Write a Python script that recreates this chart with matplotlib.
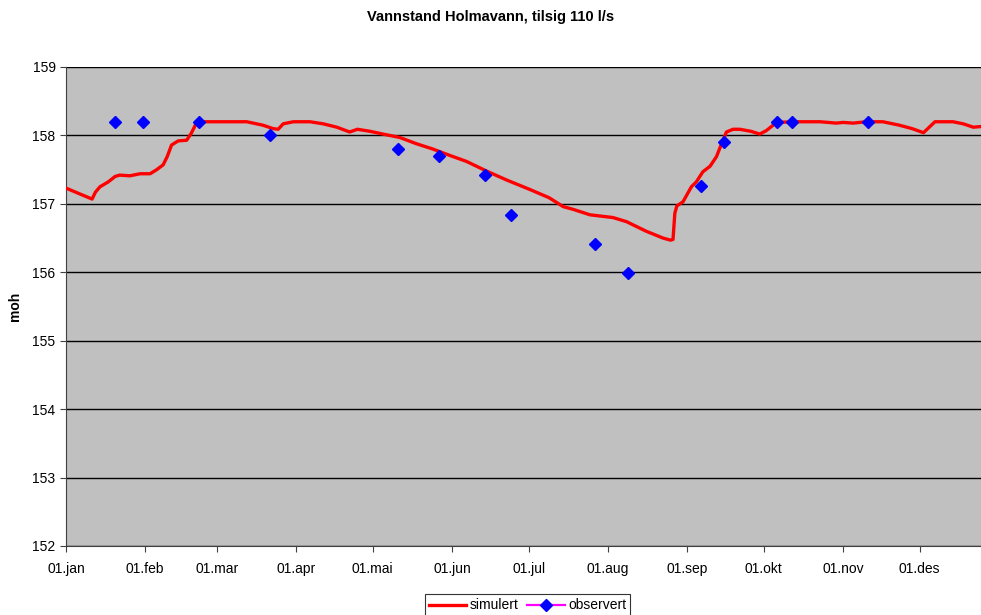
import matplotlib
matplotlib.use("Agg")
import matplotlib.pyplot as plt
from matplotlib.lines import Line2D

plt.rcParams['font.family'] = ['Liberation Sans', 'DejaVu Sans']

title = "Vannstand Holmavann, tilsig 110 l/s"
ylabel = "moh"
month_days = [0, 31, 59, 90, 120, 151, 181, 212, 243, 273, 304, 334]
month_labels = ["01.jan", "01.feb", "01.mar", "01.apr", "01.mai", "01.jun",
                "01.jul", "01.aug", "01.sep", "01.okt", "01.nov", "01.des"]

sim_day = [0, 10.2, 11.5, 13.3, 16.5, 19.2, 21, 25, 29, 32.9, 35.5, 38, 39.6, 41.3, 43.9, 47.2,
           49, 51, 52.4, 60, 70.7, 77, 81, 83, 85, 89, 95.4, 100.6, 106, 111, 114, 119, 124,
           130.6, 137, 143.6, 150, 156.7, 164.5, 172.3, 181.5, 189, 194.5, 198.4, 205, 214,
           219.3, 227, 233.6, 236.5, 237.5, 238.2, 239, 241.4, 244.7, 246.6, 249.2, 252,
           254.5, 256.5, 258.4, 261, 263.6, 268, 271.4, 274, 278, 285, 295, 301.4, 304,
           308, 313, 319.6, 326, 331, 335.5, 340, 347, 351, 355, 358]
sim_val = [157.23, 157.07, 157.17, 157.25, 157.32, 157.40, 157.42, 157.41, 157.44, 157.44,
           157.50, 157.57, 157.69, 157.86, 157.92, 157.93, 158.03, 158.18, 158.20, 158.20,
           158.20, 158.15, 158.10, 158.09, 158.17, 158.20, 158.20, 158.17, 158.12, 158.05,
           158.09, 158.06, 158.02, 157.97, 157.88, 157.80, 157.71, 157.62, 157.48, 157.35,
           157.21, 157.09, 156.96, 156.92, 156.84, 156.80, 156.74, 156.60, 156.50, 156.47,
           156.48, 156.86, 156.97, 157.03, 157.25, 157.32, 157.47, 157.55, 157.69, 157.88,
           158.05, 158.09, 158.09, 158.06, 158.02, 158.07, 158.19, 158.20, 158.20, 158.18,
           158.19, 158.18, 158.20, 158.20, 158.15, 158.10, 158.04, 158.20, 158.20, 158.17,
           158.12, 158.13]

obs_day = [19.2, 30.1, 52, 79.8, 130, 146, 164, 174, 207, 220, 248.3, 257.3, 278, 284, 313.6]
obs_val = [158.2, 158.2, 158.2, 158.0, 157.8, 157.7, 157.42, 156.84, 156.41, 155.99,
           157.26, 157.9, 158.2, 158.2, 158.2]

fig = plt.figure(figsize=(9.81, 6.15), dpi=100)
ax = fig.add_axes([66/981, 69/615, 1 - 66/981, 479/615])
ax.set_facecolor('#C0C0C0')

ax.plot(sim_day, sim_val, color='#FF0000', lw=2.4, solid_joinstyle='round', zorder=3)
ax.plot(obs_day, obs_val, ls='none', marker='D', color='#0000FF', ms=6.5, zorder=4)

ax.set_xlim(0, 358)
ax.set_ylim(152, 159)
ax.set_yticks(range(152, 160))
ax.set_xticks(month_days)
ax.set_xticklabels(month_labels)
ax.yaxis.grid(True, color='black', lw=1)
ax.set_axisbelow(True)
for s in ['top', 'right']:
    ax.spines[s].set_visible(False)
for s in ['left', 'bottom']:
    ax.spines[s].set_color('#404040')
ax.tick_params(direction='out', length=4.5, labelsize=10, color='#404040')
ax.tick_params(axis='x', pad=7)
ax.tick_params(axis='y', pad=3)
fig.text(15/981, 1 - 306/615, ylabel, rotation=90, ha='center', va='center',
         fontsize=10, fontweight='bold')
fig.text(491/981, 1 - 17/615, title, ha='center', va='center', fontsize=10.5, fontweight='bold')

handles = [Line2D([], [], color='#FF0000', lw=2.4),
           Line2D([], [], color='#FF00FF', lw=1.6, marker='D', mfc='#0000FF', mec='#0000FF', ms=6.5)]
leg = fig.legend(handles, ["simulert", "observert"], loc='lower center', ncol=2,
                 bbox_to_anchor=(0.5377, -0.014), fontsize=10, frameon=True, fancybox=False,
                 handlelength=2.7, handletextpad=0.25, columnspacing=0.6, borderpad=0.3)
leg.get_frame().set_edgecolor('black')
leg.get_frame().set_linewidth(0.8)

fig.savefig('out.png', dpi=100)
